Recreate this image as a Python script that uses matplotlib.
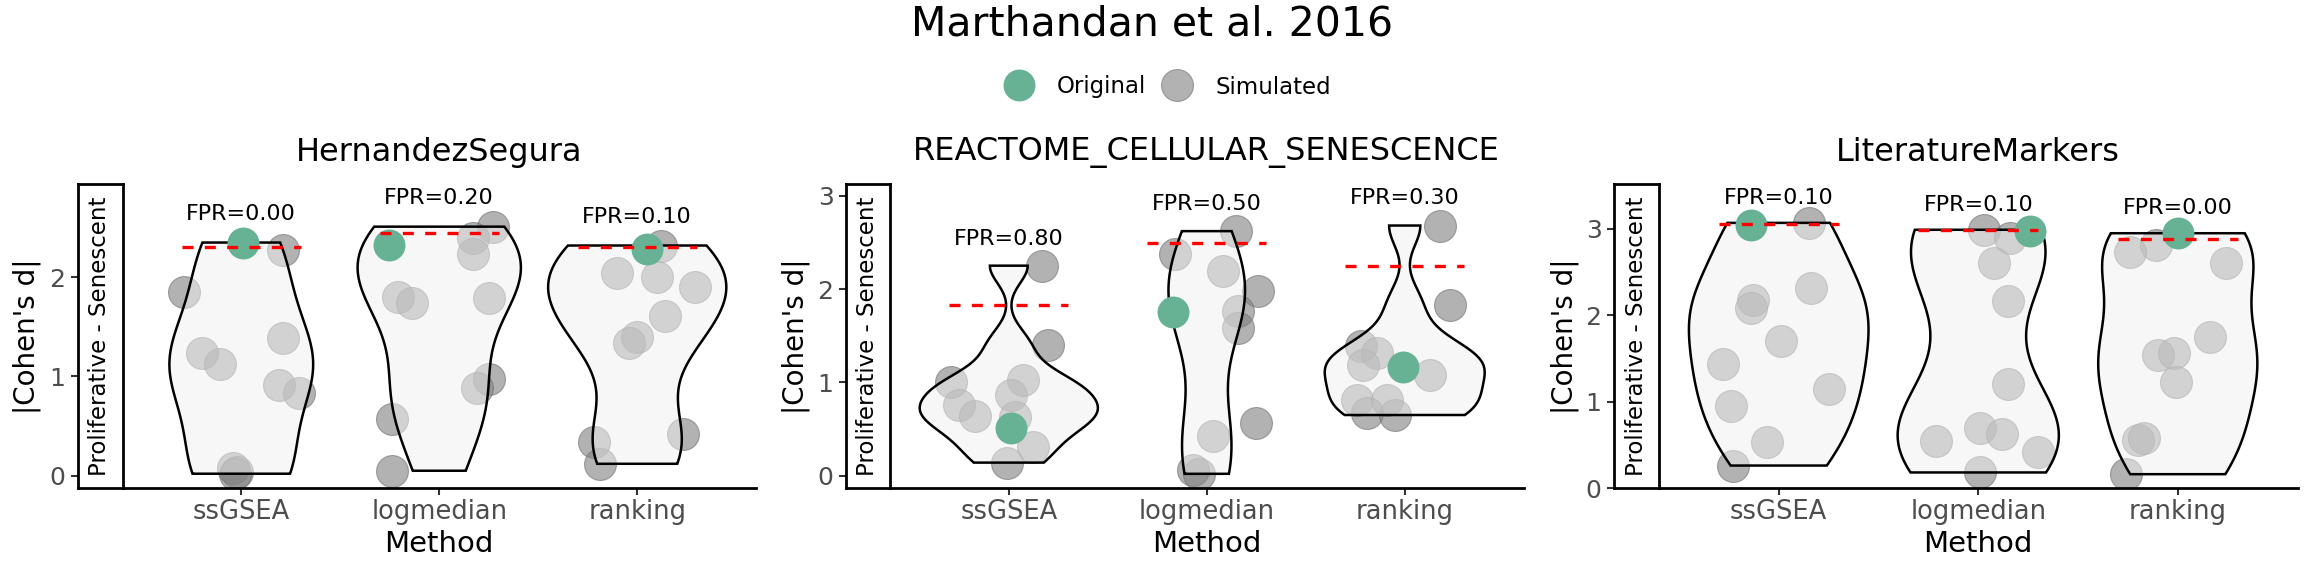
import numpy as np
import matplotlib
matplotlib.use("Agg")
import matplotlib.pyplot as plt
from matplotlib.lines import Line2D

plt.rcParams['font.family'] = ['DejaVu Sans']

methods = ["ssGSEA", "logmedian", "ranking"]
panel_names = ["HernandezSegura", "REACTOME_CELLULAR_SENESCENCE", "LiteratureMarkers"]

# HernandezSegura
hs_orig = [2.35, 2.33, 2.28]
hs_orig_dx = [0.01, -0.255, 0.05]
hs_sim = [[2.27, 1.85, 1.24, 1.13, 1.39, 0.91, 0.83, 0.08, 0.04, 0.02],
          [2.51, 2.40, 2.23, 1.80, 1.74, 1.79, 0.97, 0.88, 0.57, 0.05],
          [2.32, 2.04, 2.00, 1.90, 1.61, 1.40, 1.34, 0.34, 0.42, 0.12]]
hs_sim_dx = [[0.21, -0.29, -0.20, -0.11, 0.21, 0.19, 0.29, -0.04, -0.02, -0.03],
             [0.27, 0.17, 0.17, -0.21, -0.14, 0.25, 0.25, 0.19, -0.24, -0.24],
             [0.12, -0.10, 0.10, 0.29, 0.14, 0.0, -0.04, -0.22, 0.23, -0.19]]
hs_thr = [2.31, 2.45, 2.30]
hs_fpr = [0.00, 0.20, 0.10]

# REACTOME_CELLULAR_SENESCENCE
re_orig = [0.51, 1.75, 1.16]
re_orig_dx = [0.01, -0.17, -0.01]
re_sim = [[2.25, 1.40, 1.03, 1.00, 0.86, 0.76, 0.64, 0.63, 0.31, 0.14],
          [2.62, 2.37, 2.19, 1.98, 1.76, 1.58, 0.43, 0.56, 0.06, 0.02],
          [2.68, 1.83, 1.39, 1.31, 1.19, 1.08, 0.81, 0.81, 0.67, 0.65]]
re_sim_dx = [[0.17, 0.20, 0.07, -0.29, 0.01, -0.25, -0.17, 0.03, 0.12, -0.01],
             [0.15, -0.16, 0.08, 0.26, 0.16, 0.16, 0.03, 0.25, -0.07, -0.04],
             [0.18, 0.23, -0.22, -0.14, -0.21, 0.13, -0.24, -0.09, -0.19, -0.05]]
re_thr = [1.83, 2.49, 2.25]
re_fpr = [0.80, 0.50, 0.30]

# LiteratureMarkers
lm_orig = [3.04, 2.98, 2.95]
lm_orig_dx = [-0.14, 0.26, 0.0]
lm_sim = [[3.07, 2.18, 2.09, 2.32, 1.70, 1.44, 1.15, 0.95, 0.53, 0.26],
          [2.99, 2.90, 2.61, 2.17, 1.20, 0.70, 0.62, 0.54, 0.42, 0.18],
          [2.81, 2.73, 2.61, 1.75, 1.54, 1.56, 1.23, 0.56, 0.58, 0.16]]
lm_sim_dx = [[0.15, -0.13, -0.14, 0.16, 0.01, -0.28, 0.25, -0.24, -0.06, -0.23],
             [0.03, 0.16, 0.08, 0.15, 0.15, 0.01, 0.12, -0.21, 0.30, 0.01],
             [-0.11, -0.24, 0.24, 0.16, -0.10, -0.02, -0.01, -0.20, -0.17, -0.26]]
lm_thr = [3.06, 2.99, 2.88]
lm_fpr = [0.10, 0.10, 0.00]

all_orig = [hs_orig, re_orig, lm_orig]
all_orig_dx = [hs_orig_dx, re_orig_dx, lm_orig_dx]
all_sim = [hs_sim, re_sim, lm_sim]
all_sim_dx = [hs_sim_dx, re_sim_dx, lm_sim_dx]
all_thr = [hs_thr, re_thr, lm_thr]
all_fpr = [hs_fpr, re_fpr, lm_fpr]

ylims = [(-0.124, 2.94), (-0.132, 3.125), (0, 3.52)]
yticks = [[0, 1, 2], [0, 1, 2, 3], [0, 1, 2, 3]]

green = '#67b294'
W, H = 2304, 576
msize = 23


def nrd0(x):
    # same bandwidth rule as R's density()
    x = np.asarray(x)
    hi = np.std(x, ddof=1)
    iqr = np.subtract(*np.percentile(x, [75, 25]))
    lo = min(hi, iqr / 1.34)
    if not lo:
        lo = hi or abs(x[0]) or 1
    return 0.9 * lo * len(x) ** -0.2


def density(x):
    x = np.asarray(x)
    bw = nrd0(x)
    ys = np.linspace(x.min(), x.max(), 512)
    d = np.exp(-0.5 * ((ys[:, None] - x[None, :]) / bw) ** 2).sum(1) / (len(x) * bw * np.sqrt(2 * np.pi))
    return ys, d


fig = plt.figure(figsize=(W / 100, H / 100), dpi=100)

# panel pixel layout: (strip left, main left, main right)
layout = [(77.5, 122.5, 756), (846, 890, 1523.5), (1614, 1659, 2297.5)]
ylab_x = [27, 796, 1565]
top_px, bot_px = 184, 488

for p in range(3):
    sl, ml, mr = layout[p]
    b = 1 - bot_px / H
    h = (bot_px - top_px) / H
    ax = fig.add_axes([ml / W, b, (mr - ml) / W, h])
    axs = fig.add_axes([sl / W, b, (ml - sl) / W, h], sharey=ax)

    sims, sdx = all_sim[p], all_sim_dx[p]
    origs, odx = all_orig[p], all_orig_dx[p]

    dens = [density(sims[i] + [origs[i]]) for i in range(3)]
    dmax = max(d.max() for _, d in dens)

    for i in range(3):
        c = i + 1
        ax.scatter(c + np.array(sdx[i]), sims[i], s=msize ** 2, marker='o',
                   facecolor='#808080', edgecolor='#707070', linewidth=0.8,
                   alpha=0.6, zorder=1)
        ys, d = dens[i]
        w = 0.45 * d / dmax
        ax.fill(np.concatenate([c - w, (c + w)[::-1]]), np.concatenate([ys, ys[::-1]]),
                facecolor=(0.94, 0.94, 0.94, 0.52), edgecolor='black', linewidth=1.8, zorder=2)
        ax.scatter([c + odx[i]], [origs[i]], s=msize ** 2, marker='o',
                   color=green, linewidth=0, zorder=3)
        ax.plot([c - 0.3, c + 0.3], [all_thr[p][i]] * 2, color='red', lw=2.4,
                dashes=(3.3, 3.4), zorder=4)
        top = max(max(sims[i]), origs[i])
        ax.text(c, top + 0.29, f"FPR={all_fpr[p][i]:.2f}", ha='center', va='center',
                fontsize=16, zorder=5)

    ax.set_xlim(0.4, 3.6)
    ax.set_ylim(*ylims[p])
    ax.set_xticks([1, 2, 3])
    ax.set_xticklabels(methods)
    for s in ['top', 'right', 'left']:
        ax.spines[s].set_visible(False)
    ax.spines['bottom'].set_linewidth(2.0)
    ax.tick_params(axis='x', length=5, width=1.5, color='#333333', labelcolor='#4d4d4d',
                   labelsize=18.5, pad=3)
    ax.tick_params(axis='y', left=False, labelleft=False)
    ax.text(0.5, -(544 - bot_px) / (bot_px - top_px), "Method", transform=ax.transAxes,
            ha='center', va='center', fontsize=21)
    ax.text(0.5, 1 + 32 / (bot_px - top_px), panel_names[p], transform=ax.transAxes,
            ha='center', va='center', fontsize=23)

    axs.set_xticks([])
    axs.set_yticks(yticks[p])
    for s in axs.spines.values():
        s.set_linewidth(2.0)
    axs.tick_params(axis='y', length=5, width=1.5, color='#333333', labelcolor='#4d4d4d',
                    labelsize=18, pad=4)
    axs.text(0.5, 0.5, "Proliferative - Senescent", rotation=90, ha='center', va='center',
             fontsize=16.5, transform=axs.transAxes)

    fig.text(ylab_x[p] / W, 1 - (top_px + bot_px) / 2 / H, "|Cohen's d|", rotation=90,
             ha='center', va='center', fontsize=20)

fig.text(0.5, 1 - 25 / H, "Marthandan et al. 2016", ha='center', va='center', fontsize=29.5)

handles = [Line2D([], [], linestyle='none', marker='o', markersize=msize,
                  markerfacecolor=green, markeredgewidth=0),
           Line2D([], [], linestyle='none', marker='o', markersize=msize,
                  markerfacecolor=(0.5, 0.5, 0.5, 0.6), markeredgecolor=(0.44, 0.44, 0.44, 0.6),
                  markeredgewidth=0.8)]
fig.legend(handles, ["Original", "Simulated"], loc='center', bbox_to_anchor=(1167 / W, 1 - 87 / H),
           ncol=2, frameon=False, fontsize=16.5, handlelength=1.4, handletextpad=0.96,
           columnspacing=0.64, borderpad=0)

fig.savefig("out.png", dpi=100)
